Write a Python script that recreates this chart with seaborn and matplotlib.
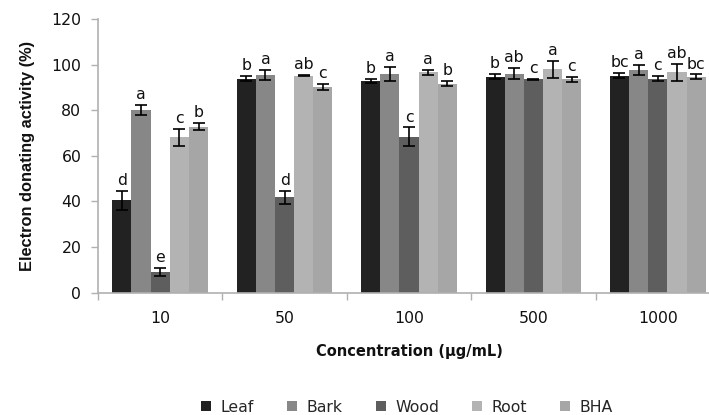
import matplotlib
matplotlib.use("Agg")
import matplotlib.pyplot as plt
from matplotlib.patches import Patch
import numpy as np
import pandas as pd
import seaborn as sns

# Concentrations (µg/mL) and sample names
concentrations = ["10", "50", "100", "500", "1000"]
samples = ["Leaf", "Bark", "Wood", "Root", "BHA"]

# Electron donating activity (%) per sample across concentrations
leaf = [40.6, 93.9, 92.9, 94.7, 95.2]
bark = [80.0, 95.5, 96.0, 96.1, 97.7]
wood = [9.2, 41.9, 68.3, 93.5, 93.9]
root = [68.2, 95.1, 96.7, 97.9, 96.6]
bha = [72.8, 90.1, 91.6, 93.5, 94.7]

# Standard deviations
leaf_sd = [4.2, 1.1, 1.0, 1.1, 1.1]
bark_sd = [2.3, 2.2, 3.0, 2.6, 2.3]
wood_sd = [1.7, 2.8, 4.2, 0.3, 1.1]
root_sd = [3.7, 0.3, 1.1, 3.8, 3.7]
bha_sd = [1.5, 1.4, 1.1, 1.0, 1.0]

# Significance letters
leaf_sig = ["d", "b", "b", "b", "bc"]
bark_sig = ["a", "a", "a", "ab", "a"]
wood_sig = ["e", "d", "c", "c", "c"]
root_sig = ["c", "ab", "a", "a", "ab"]
bha_sig = ["b", "c", "b", "c", "bc"]

values = [leaf, bark, wood, root, bha]
errors = [leaf_sd, bark_sd, wood_sd, root_sd, bha_sd]
letters = [leaf_sig, bark_sig, wood_sig, root_sig, bha_sig]
colors = ["#222222", "#878787", "#5e5e5e", "#b3b3b3", "#a6a6a6"]

df = pd.DataFrame({
    "Concentration": np.tile(concentrations, len(samples)),
    "Sample": np.repeat(samples, len(concentrations)),
    "Activity": np.concatenate(values),
})

sns.set_theme(style="white")
plt.rcParams["font.family"] = ["DejaVu Sans"]

FS = 11.3

fig = plt.figure(figsize=(7.09, 4.15), dpi=100)
ax = fig.add_axes([98 / 709, (415 - 292.7) / 415, (720 - 98) / 709, (292.7 - 19) / 415])

sns.barplot(data=df, x="Concentration", y="Activity", hue="Sample",
            order=concentrations, hue_order=samples, palette=colors,
            width=0.77, errorbar=None, saturation=1, linewidth=0,
            legend=False, ax=ax)

for container, vals, errs, sig in zip(ax.containers, values, errors, letters):
    xs = [bar.get_x() + bar.get_width() / 2 for bar in container]
    ax.errorbar(xs, vals, yerr=errs, fmt="none", ecolor="black",
                elinewidth=1.2, capsize=4, capthick=1.2, zorder=5)
    for x, v, e, s in zip(xs, vals, errs, sig):
        ax.annotate(s, (x, v + e), xytext=(0, 2), textcoords="offset points",
                    ha="center", va="bottom", fontsize=FS, color="#111111")

ax.set_ylim(0, 120)
ax.set_yticks(range(0, 121, 20))
ax.set_xlim(-0.5, 4.5)

ax.set_xticks(np.arange(-0.5, 5.0, 1.0), minor=True)
ax.tick_params(axis="x", which="major", length=0, pad=13, labelsize=FS, colors="#111111")
ax.tick_params(axis="x", which="minor", bottom=True, length=5, direction="out",
               color="#b0b0b0", width=1)
ax.tick_params(axis="y", left=True, length=5, direction="out", color="#b0b0b0",
               width=1, pad=7, labelsize=FS, labelcolor="#111111")

for side in ["top", "right"]:
    ax.spines[side].set_visible(False)
for side in ["left", "bottom"]:
    ax.spines[side].set_color("#b0b0b0")
    ax.spines[side].set_linewidth(1.2)

ax.set_xlabel("Concentration (\u03bcg/mL)", fontsize=10.5, fontweight="bold",
              color="#111111", labelpad=13)
ax.set_ylabel("Electron donating activity (%)", fontsize=11.8, fontweight="bold",
              color="#111111", family=["Liberation Sans", "DejaVu Sans"],
              labelpad=12)

handles = [Patch(facecolor=c, edgecolor="none") for c in colors]
fig.legend(handles, samples, loc="center", bbox_to_anchor=(407 / 709, 1 - 407 / 415),
           ncol=5, frameon=False, fontsize=FS, handlelength=0.65, handleheight=0.65,
           handletextpad=0.6, columnspacing=2.1)

fig.savefig("out.png", dpi=100)
